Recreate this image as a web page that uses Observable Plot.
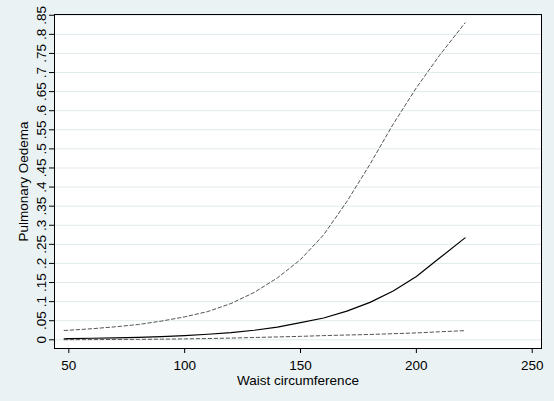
<!DOCTYPE html>
<html><head><meta charset="utf-8">
<script src="https://cdn.jsdelivr.net/npm/d3@7"></script>
<script src="https://cdn.jsdelivr.net/npm/@observablehq/plot@0.6"></script>
<style>html,body{margin:0;padding:0;background:#eaf2f3;}</style>
</head><body><div id="chart"></div>
<script>
// Waist circumference values where the prediction was evaluated
const waist = [48, 50, 60, 70, 80, 90, 100, 110, 120, 130, 140, 150, 160, 170, 180, 190, 200, 210, 221];
// Predicted probability (solid line)
const fit = [0.0028, 0.003, 0.004, 0.005, 0.0065, 0.0085, 0.011, 0.0145, 0.019, 0.025, 0.033, 0.045, 0.057, 0.075, 0.098, 0.128, 0.166, 0.214, 0.267];
// Upper confidence bound (dashed)
const upper = [0.0245, 0.025, 0.029, 0.034, 0.040, 0.049, 0.060, 0.074, 0.095, 0.124, 0.162, 0.21, 0.275, 0.362, 0.46, 0.565, 0.66, 0.745, 0.83];
// Lower confidence bound (dashed)
const lower = [0.0003, 0.0003, 0.0005, 0.0008, 0.0012, 0.0017, 0.0024, 0.0033, 0.0045, 0.006, 0.0075, 0.009, 0.011, 0.0125, 0.014, 0.016, 0.018, 0.021, 0.024];
const xTicks = [50, 100, 150, 200, 250];
const yTicks = [0, 0.05, 0.1, 0.15, 0.2, 0.25, 0.3, 0.35, 0.4, 0.45, 0.5, 0.55, 0.6, 0.65, 0.7, 0.75, 0.8, 0.85];

const rows = waist.map((w, i) => ({waist: w, fit: fit[i], upper: upper[i], lower: lower[i]}));
const fmt = d => d === 0 ? "0" : d.toFixed(2).replace(/0+$/, "").replace(/^0/, "");

const chart = Plot.plot({
  width: 554,
  height: 401,
  marginLeft: 54,
  marginRight: 13,
  marginTop: 14,
  marginBottom: 53,
  style: {background: "#eaf2f3", fontFamily: "'Liberation Sans', Arial, sans-serif", fontSize: "13.5px", color: "#000"},
  x: {domain: [43.83, 254.0]},
  y: {domain: [-0.0228, 0.852]},
  marks: [
    Plot.frame({fill: "white", stroke: null}),
    Plot.gridY(yTicks, {stroke: "#e0eaed", strokeOpacity: 1, strokeWidth: 1}),
    Plot.line(rows, {x: "waist", y: "upper", stroke: "#555", strokeWidth: 1, strokeDasharray: "3.5,2.5"}),
    Plot.line(rows, {x: "waist", y: "lower", stroke: "#555", strokeWidth: 1, strokeDasharray: "3.5,2.5"}),
    Plot.line(rows, {x: "waist", y: "fit", stroke: "#000", strokeWidth: 1.2}),
    Plot.frame({stroke: "#000", strokeWidth: 1}),
    Plot.axisX(xTicks, {anchor: "bottom", tickSize: 5, tickPadding: 7, stroke: "#000", label: "Waist circumference", labelAnchor: "center", labelArrow: "none", labelOffset: 36}),
    Plot.axisY(yTicks, {anchor: "left", tickSize: 5, tickPadding: 4, tickRotate: -90, tickFormat: fmt, stroke: "#000", label: "Pulmonary Oedema", labelAnchor: "center", labelArrow: "none", labelOffset: 36})
  ]
});
document.getElementById("chart").appendChild(chart);
</script>
</body></html>
